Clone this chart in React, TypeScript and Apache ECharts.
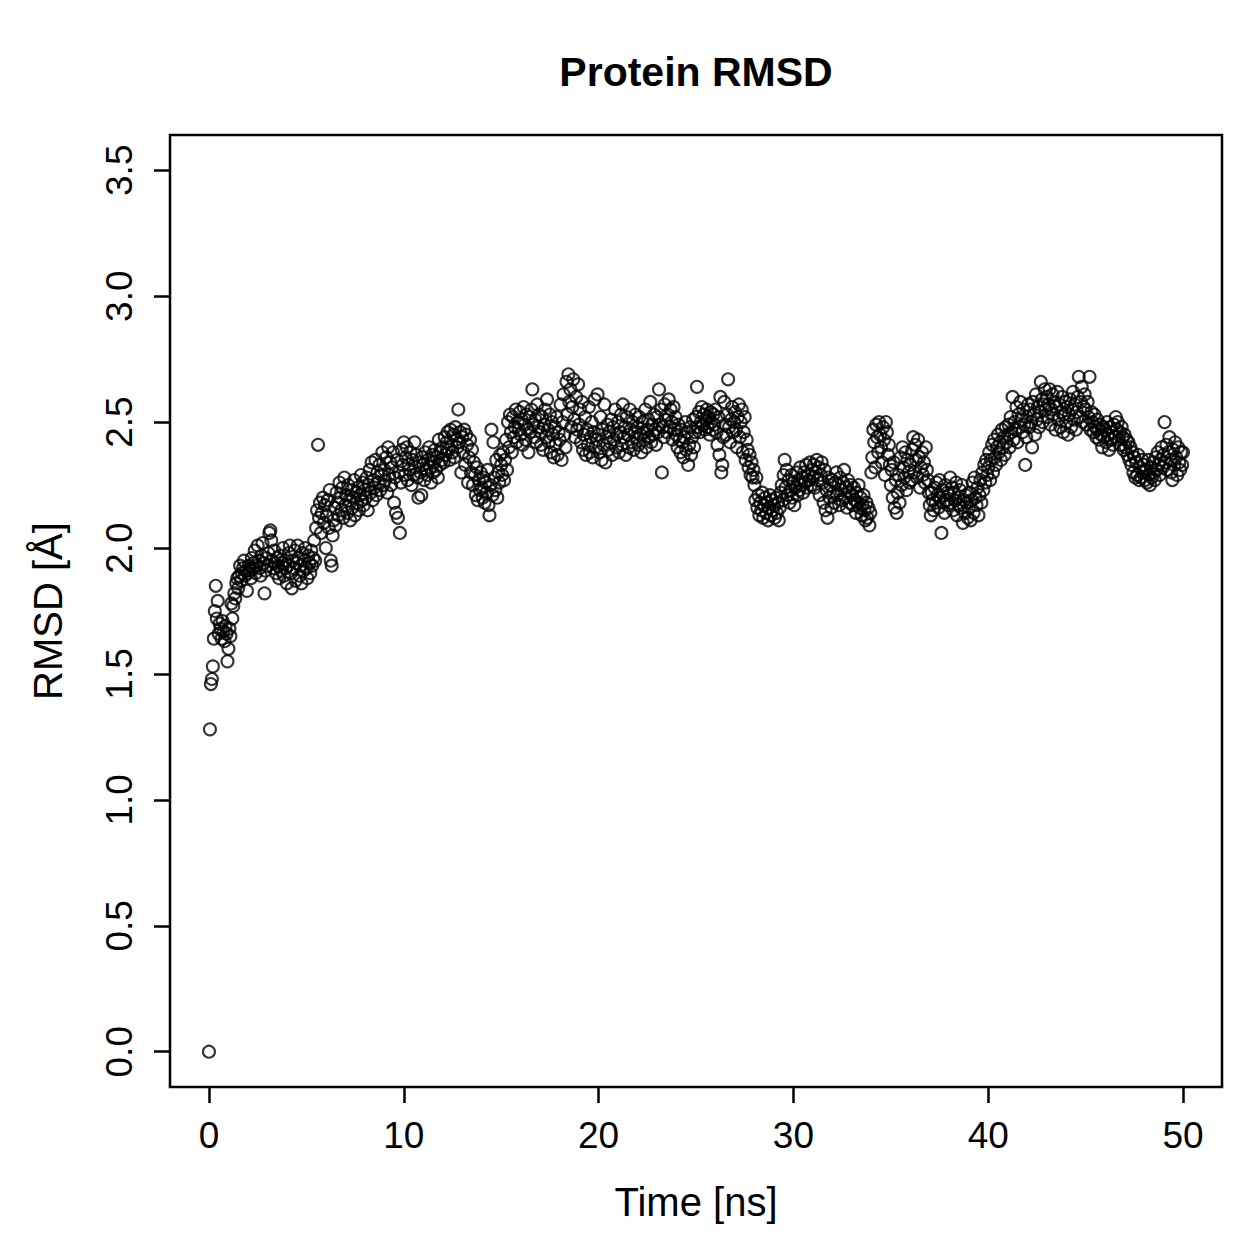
import React, { useEffect, useRef } from "react";
import * as echarts from "echarts";

const TITLE = "Protein RMSD";
const X_NAME = "Time [ns]";
const Y_NAME = "RMSD [Å]";
const X_TICKS = [0, 10, 20, 30, 40, 50];
const Y_TICKS = [0, 0.5, 1, 1.5, 2, 2.5, 3, 3.5];
const TIME_STEP = 0.05; // ns between frames

// RMSD values, one row per nanosecond (20 frames each)
const RMSD: number[] = [
  0.00,1.28,1.46,1.48,1.53,1.64,1.75,1.85,1.72,1.79,1.66,1.70,1.68,1.64,1.71,1.67,1.63,1.69,1.66,1.55,
  1.60,1.68,1.65,1.78,1.72,1.77,1.82,1.80,1.86,1.88,1.84,1.89,1.93,1.87,1.90,1.92,1.95,1.89,1.91,1.83,
  1.90,1.93,1.91,1.88,1.96,1.92,1.94,1.99,1.90,1.93,2.01,1.95,1.92,1.89,1.97,2.02,1.94,1.82,1.91,1.96,
  1.93,1.98,2.06,2.07,2.03,1.95,1.92,1.99,1.94,1.90,1.96,1.93,1.88,1.97,1.91,1.94,2.00,1.89,1.95,1.92,
  1.86,1.93,1.98,2.01,1.90,1.84,1.95,1.92,1.99,1.87,1.94,2.01,1.96,1.89,1.93,1.86,1.98,1.91,1.95,2.00,
  1.92,1.88,1.97,1.94,1.90,1.99,1.93,1.96,2.03,1.95,2.08,2.15,2.41,2.12,2.18,2.06,2.14,2.20,2.10,2.17,
  2.00,2.13,2.19,2.08,2.23,1.95,1.93,2.05,2.11,2.16,2.09,2.22,2.18,2.13,2.26,2.20,2.15,2.24,2.12,2.28,
  2.17,2.21,2.14,2.25,2.19,2.11,2.23,2.16,2.20,2.27,2.13,2.22,2.18,2.24,2.15,2.21,2.29,2.19,2.26,2.17,
  2.23,2.20,2.28,2.15,2.25,2.31,2.22,2.34,2.19,2.27,2.24,2.35,2.21,2.30,2.26,2.33,2.23,2.29,2.38,2.25,
  2.31,2.27,2.36,2.22,2.40,2.29,2.34,2.25,2.32,2.38,2.18,2.28,2.14,2.35,2.12,2.30,2.06,2.26,2.39,2.33,
  2.42,2.29,2.36,2.40,2.27,2.33,2.31,2.38,2.25,2.35,2.29,2.42,2.32,2.37,2.28,2.20,2.34,2.30,2.21,2.36,
  2.33,2.27,2.38,2.31,2.29,2.35,2.40,2.32,2.26,2.37,2.30,2.34,2.39,2.31,2.36,2.28,2.43,2.33,2.38,2.35,
  2.40,2.34,2.44,2.37,2.42,2.46,2.39,2.35,2.47,2.41,2.38,2.45,2.36,2.48,2.43,2.40,2.55,2.42,2.46,2.30,
  2.44,2.38,2.47,2.33,2.45,2.41,2.26,2.36,2.43,2.30,2.39,2.25,2.34,2.29,2.21,2.32,2.19,2.27,2.23,2.30,
  2.24,2.20,2.28,2.18,2.26,2.22,2.31,2.17,2.13,2.25,2.47,2.21,2.42,2.28,2.23,2.35,2.20,2.30,2.26,2.37,
  2.33,2.29,2.38,2.27,2.35,2.43,2.31,2.50,2.40,2.53,2.46,2.38,2.52,2.44,2.48,2.55,2.42,2.50,2.47,2.54,
  2.45,2.51,2.41,2.56,2.49,2.43,2.53,2.47,2.38,2.52,2.46,2.55,2.63,2.49,2.44,2.51,2.42,2.57,2.48,2.53,
  2.46,2.41,2.52,2.39,2.49,2.55,2.44,2.59,2.47,2.42,2.53,2.38,2.50,2.45,2.36,2.48,2.41,2.52,2.37,2.46,
  2.43,2.57,2.35,2.50,2.61,2.45,2.40,2.66,2.53,2.69,2.58,2.63,2.48,2.56,2.67,2.51,2.44,2.60,2.47,2.65,
  2.49,2.55,2.42,2.58,2.39,2.45,2.52,2.37,2.47,2.41,2.56,2.38,2.44,2.50,2.36,2.46,2.59,2.40,2.43,2.61,
  2.45,2.38,2.52,2.35,2.47,2.41,2.57,2.34,2.44,2.49,2.39,2.46,2.42,2.51,2.37,2.48,2.43,2.55,2.40,2.45,
  2.50,2.38,2.46,2.53,2.41,2.57,2.44,2.48,2.37,2.52,2.45,2.40,2.55,2.47,2.42,2.50,2.39,2.46,2.53,2.44,
  2.48,2.41,2.52,2.45,2.38,2.50,2.46,2.43,2.55,2.40,2.47,2.51,2.44,2.58,2.42,2.49,2.45,2.53,2.47,2.41,
  2.52,2.46,2.63,2.49,2.55,2.30,2.48,2.44,2.57,2.51,2.46,2.53,2.59,2.48,2.55,2.50,2.43,2.56,2.47,2.52,
  2.45,2.40,2.49,2.43,2.38,2.47,2.42,2.36,2.44,2.50,2.39,2.46,2.33,2.41,2.48,2.37,2.44,2.51,2.40,2.46,
  2.52,2.64,2.48,2.54,2.46,2.50,2.56,2.49,2.53,2.47,2.51,2.55,2.48,2.52,2.45,2.54,2.50,2.47,2.53,2.49,
  2.55,2.46,2.41,2.52,2.37,2.60,2.30,2.33,2.44,2.58,2.49,2.45,2.53,2.67,2.48,2.42,2.51,2.56,2.46,2.50,
  2.54,2.47,2.40,2.52,2.57,2.44,2.50,2.55,2.38,2.46,2.52,2.35,2.43,2.39,2.32,2.37,2.29,2.34,2.28,2.31,
  2.25,2.19,2.28,2.16,2.21,2.13,2.18,2.15,2.22,2.12,2.17,2.20,2.14,2.18,2.11,2.16,2.21,2.13,2.19,2.15,
  2.17,2.12,2.20,2.14,2.18,2.11,2.16,2.22,2.25,2.19,2.29,2.35,2.24,2.31,2.21,2.27,2.18,2.23,2.29,2.20,
  2.26,2.17,2.24,2.30,2.21,2.27,2.23,2.32,2.25,2.28,2.22,2.30,2.26,2.33,2.24,2.29,2.27,2.34,2.25,2.31,
  2.28,2.33,2.24,2.30,2.35,2.27,2.32,2.21,2.29,2.34,2.26,2.18,2.31,2.15,2.23,2.12,2.28,2.20,2.25,2.16,
  2.27,2.22,2.18,2.26,2.30,2.21,2.25,2.17,2.28,2.23,2.19,2.26,2.31,2.20,2.24,2.16,2.27,2.22,2.18,2.25,
  2.21,2.17,2.24,2.19,2.14,2.22,2.18,2.25,2.16,2.20,2.13,2.17,2.21,2.15,2.11,2.18,2.12,2.16,2.09,2.14,
  2.30,2.36,2.47,2.42,2.32,2.49,2.44,2.38,2.50,2.45,2.40,2.34,2.48,2.43,2.29,2.50,2.46,2.37,2.41,2.33,
  2.25,2.31,2.20,2.34,2.16,2.27,2.14,2.22,2.29,2.18,2.36,2.25,2.40,2.32,2.28,2.38,2.23,2.35,2.30,2.26,
  2.33,2.27,2.39,2.44,2.30,2.41,2.35,2.28,2.43,2.36,2.24,2.32,2.38,2.29,2.34,2.26,2.40,2.31,2.27,2.22,
  2.17,2.13,2.22,2.19,2.15,2.24,2.18,2.26,2.21,2.16,2.27,2.20,2.06,2.23,2.18,2.14,2.25,2.19,2.22,2.17,
  2.21,2.28,2.18,2.24,2.15,2.22,2.19,2.26,2.13,2.20,2.17,2.23,2.16,2.25,2.10,2.19,2.14,2.21,2.18,2.12,
  2.16,2.22,2.11,2.19,2.26,2.14,2.28,2.20,2.17,2.24,2.13,2.21,2.27,2.18,2.30,2.23,2.33,2.26,2.35,2.29,
  2.32,2.38,2.27,2.35,2.41,2.30,2.43,2.36,2.33,2.40,2.45,2.38,2.42,2.35,2.47,2.40,2.44,2.37,2.48,2.42,
  2.45,2.49,2.40,2.52,2.46,2.60,2.43,2.50,2.47,2.56,2.42,2.53,2.48,2.58,2.51,2.46,2.55,2.49,2.33,2.44,
  2.52,2.57,2.48,2.55,2.50,2.40,2.58,2.53,2.45,2.61,2.51,2.56,2.48,2.54,2.66,2.59,2.50,2.57,2.63,2.55,
  2.60,2.52,2.57,2.63,2.49,2.55,2.61,2.53,2.58,2.47,2.56,2.62,2.51,2.57,2.48,2.54,2.60,2.46,2.53,2.58,
  2.50,2.56,2.45,2.53,2.59,2.48,2.55,2.62,2.51,2.57,2.47,2.54,2.60,2.68,2.52,2.58,2.64,2.50,2.56,2.61,
  2.55,2.49,2.58,2.52,2.68,2.47,2.54,2.50,2.46,2.53,2.48,2.44,2.51,2.47,2.43,2.49,2.45,2.40,2.48,2.44,
  2.47,2.42,2.50,2.45,2.39,2.48,2.43,2.46,2.41,2.49,2.44,2.52,2.47,2.50,2.43,2.46,2.41,2.48,2.44,2.39,
  2.45,2.40,2.43,2.37,2.42,2.35,2.40,2.33,2.38,2.30,2.36,2.28,2.34,2.29,2.37,2.27,2.32,2.28,2.35,2.30,
  2.33,2.27,2.31,2.26,2.35,2.29,2.25,2.32,2.28,2.34,2.30,2.27,2.36,2.31,2.38,2.33,2.29,2.35,2.40,2.32,
  2.37,2.50,2.34,2.41,2.31,2.38,2.44,2.35,2.30,2.27,2.39,2.33,2.42,2.36,2.29,2.40,2.34,2.31,2.38,2.33,
  2.38,
];

const FONT = "Liberation Sans, Arial, Helvetica, sans-serif";

export default function App() {
  const ref = useRef<HTMLDivElement>(null);
  useEffect(() => {
    document.body.style.margin = "0";
    if (!ref.current) return;
    const chart = echarts.init(ref.current, undefined, { renderer: "svg" });
    const points = RMSD.map((v, i) => [+(i * TIME_STEP).toFixed(2), v]);
    chart.setOption({
      animation: false,
      backgroundColor: "#ffffff",
      title: {
        text: TITLE,
        left: 691,
        textAlign: "center",
        top: 46,
        textStyle: { fontFamily: FONT, fontWeight: "bold", fontSize: 41, color: "#000" },
      },
      grid: {
        left: 170,
        top: 135,
        right: 37,
        bottom: 172,
        show: true,
        borderColor: "#000",
        borderWidth: 2.5,
        backgroundColor: "transparent",
      },
      xAxis: {
        type: "value",
        min: -2,
        max: 52,
        name: X_NAME,
        nameLocation: "middle",
        nameGap: 95,
        nameTextStyle: { fontFamily: FONT, fontSize: 40, color: "#000" },
        axisLine: { show: false, onZero: false },
        splitLine: { show: false },
        axisTick: {
          show: true,
          length: 16,
          customValues: X_TICKS,
          lineStyle: { color: "#000", width: 2.5 },
        },
        axisLabel: {
          customValues: X_TICKS,
          margin: 30,
          fontFamily: FONT,
          fontSize: 37,
          color: "#000",
        },
      },
      yAxis: {
        type: "value",
        min: -0.14,
        max: 3.64,
        name: Y_NAME,
        nameLocation: "middle",
        nameGap: 102,
        nameRotate: 90,
        nameTextStyle: { fontFamily: FONT, fontSize: 40, color: "#000" },
        axisLine: { show: false, onZero: false },
        splitLine: { show: false },
        axisTick: {
          show: true,
          length: 16,
          customValues: Y_TICKS,
          lineStyle: { color: "#000", width: 2.5 },
        },
        axisLabel: {
          customValues: Y_TICKS,
          rotate: 90,
          margin: 32,
          fontFamily: FONT,
          fontSize: 37,
          color: "#000",
          formatter: (v: number) => v.toFixed(1),
        },
      },
      series: [
        {
          type: "scatter",
          data: points,
          symbol: "circle",
          symbolSize: 12,
          itemStyle: { color: "rgba(0,0,0,0)", borderColor: "#000", borderWidth: 2.1 },
          emphasis: { disabled: true },
        },
      ],
    });
    return () => chart.dispose();
  }, []);
  return <div ref={ref} style={{ width: 1259, height: 1259 }} />;
}
